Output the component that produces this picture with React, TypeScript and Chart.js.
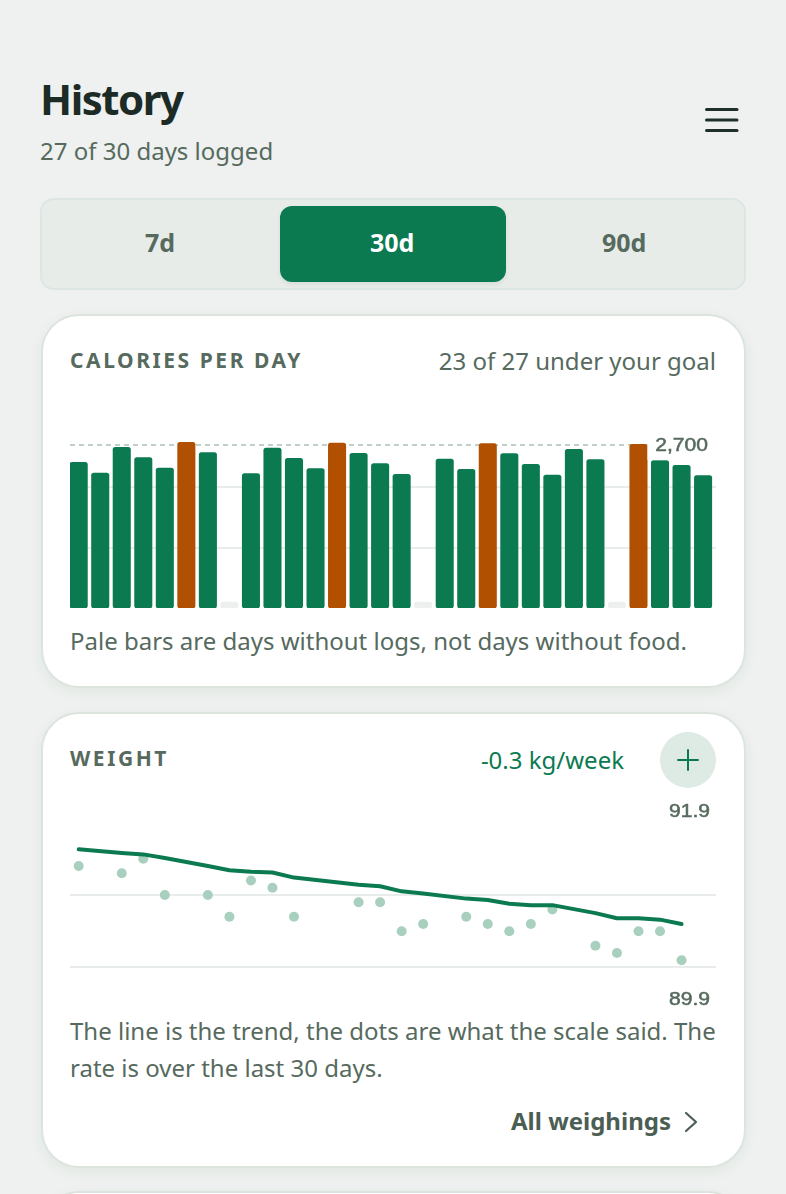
import { useEffect, useRef, type CSSProperties } from "react"
import { Chart, registerables, type Plugin } from "chart.js"

Chart.register(...registerables)

const CALORIES = [
  2414, 2237, 2663, 2492, 2320, 2746, 2575, 100, 2227, 2651, 2481, 2310, 2734, 2563, 2393, 2216, 100, 2469, 2299, 2724,
  2558, 2381, 2204, 2630, 2459, 100, 2713, 2443, 2365, 2194,
]
const UNLOGGED_DAYS = [7, 16, 25]
const GOAL = 2700
const CALORIE_GRID = [1000, 2000]
const GOAL_LABEL = "2,700"

const WEIGHT_DAYS = [0, 2, 3, 4, 6, 7, 8, 9, 10, 13, 14, 15, 16, 18, 19, 20, 21, 22, 24, 25, 26, 27, 28]
const WEIGHT_SCALE = [91.4, 91.3, 91.5, 91.0, 91.0, 90.7, 91.2, 91.1, 90.7, 90.9, 90.9, 90.5, 90.6, 90.7, 90.6, 90.5, 90.6, 90.8, 90.3, 90.2, 90.5, 90.5, 90.1]
const WEIGHT_TREND = [91.63, 91.58, 91.56, 91.51, 91.4, 91.34, 91.32, 91.31, 91.24, 91.14, 91.12, 91.05, 91.02, 90.95, 90.93, 90.88, 90.86, 90.86, 90.75, 90.68, 90.68, 90.66, 90.6]
const WEIGHT_GRID = [90, 91]
const WEIGHT_MAX_LABEL = "91.9"
const WEIGHT_MIN_LABEL = "89.9"

const GREEN = "#0b7a50"
const ORANGE = "#b05000"
const PALE = "#edf0ee"
const GRID = "#e8ecea"
const MUTED = "#566a5e"
const FONT = '"Noto Sans", sans-serif'

// both charts share one day axis, the bars sit a little left of their slot
const DAY_MIN = -0.404
const DAY_MAX = 29.6

function stretchedText(ctx: CanvasRenderingContext2D, text: string, right: number, y: number) {
  ctx.save()
  ctx.font = '18px "Liberation Sans", sans-serif'
  ctx.fillStyle = MUTED
  ctx.strokeStyle = MUTED
  ctx.lineWidth = 0.5
  ctx.textAlign = "right"
  ctx.textBaseline = "middle"
  ctx.translate(right, y)
  ctx.scale(1.17, 1)
  ctx.fillText(text, 0, 0)
  ctx.strokeText(text, 0, 0)
  ctx.restore()
}

const goalLabel: Plugin = {
  id: "goalLabel",
  afterDatasetsDraw(chart) {
    const { ctx, chartArea, scales } = chart
    const y = scales.y.getPixelForValue(GOAL)
    const left = scales.x.getPixelForValue(26.42)
    ctx.save()
    ctx.fillStyle = "#ffffff"
    ctx.fillRect(left, y - 14, chartArea.right - left, 29)
    ctx.restore()
    stretchedText(ctx, GOAL_LABEL, 638, y + 1)
  },
}

const weightLabels: Plugin = {
  id: "weightLabels",
  afterDatasetsDraw(chart) {
    const { ctx, chartArea } = chart
    stretchedText(ctx, WEIGHT_MAX_LABEL, 640, chartArea.top + 12)
    stretchedText(ctx, WEIGHT_MIN_LABEL, 640, chartArea.bottom - 11)
  },
}

function CaloriesChart() {
  const ref = useRef<HTMLCanvasElement>(null)

  useEffect(() => {
    if (!ref.current) return
    const chart = new Chart(ref.current, {
      type: "bar",
      data: {
        datasets: [
          {
            type: "bar",
            data: CALORIES.map((y, x) => ({ x, y })),
            backgroundColor: CALORIES.map((v, i) => (UNLOGGED_DAYS.includes(i) ? PALE : v > GOAL ? ORANGE : GREEN)),
            barThickness: 17.4,
            borderRadius: 2.5,
            borderSkipped: false,
            order: 1,
          },
          {
            type: "line",
            data: [
              { x: DAY_MIN, y: GOAL },
              { x: DAY_MAX, y: GOAL },
            ],
            borderColor: "#c0d0c6",
            borderWidth: 2,
            borderDash: [5, 4],
            pointRadius: 0,
            order: 2,
          },
        ],
      } as any,
      options: {
        responsive: false,
        animation: false,
        layout: { padding: 0, autoPadding: false },
        plugins: { legend: { display: false }, tooltip: { enabled: false } },
        scales: {
          x: { type: "linear", min: DAY_MIN, max: DAY_MAX, offset: false, display: false },
          y: {
            min: 0,
            max: 3000,
            afterBuildTicks: (axis) => {
              axis.ticks = CALORIE_GRID.map((value) => ({ value }))
            },
            ticks: { display: false },
            border: { display: false },
            grid: { color: GRID, lineWidth: 2, drawTicks: false },
          },
        },
      },
      plugins: [goalLabel],
    })
    return () => chart.destroy()
  }, [])

  return <canvas ref={ref} width={646} height={181} style={{ position: "absolute", left: 70, top: 427 }} />
}

function WeightChart() {
  const ref = useRef<HTMLCanvasElement>(null)

  useEffect(() => {
    if (!ref.current) return
    const chart = new Chart(ref.current, {
      type: "line",
      data: {
        datasets: [
          {
            data: WEIGHT_DAYS.map((x, i) => ({ x, y: WEIGHT_TREND[i] })),
            borderColor: GREEN,
            borderWidth: 4,
            borderCapStyle: "round",
            borderJoinStyle: "round",
            pointRadius: 0,
            order: 1,
          },
          {
            data: WEIGHT_DAYS.map((x, i) => ({ x, y: WEIGHT_SCALE[i] })),
            showLine: false,
            pointRadius: 5,
            pointBorderWidth: 0,
            pointBackgroundColor: "#a9d0bf",
            order: 2,
          },
        ],
      },
      options: {
        responsive: false,
        animation: false,
        layout: { padding: 0, autoPadding: false },
        plugins: { legend: { display: false }, tooltip: { enabled: false } },
        scales: {
          x: { type: "linear", min: DAY_MIN, max: DAY_MAX, display: false },
          y: {
            min: 89.4,
            max: 92.31,
            afterBuildTicks: (axis) => {
              axis.ticks = WEIGHT_GRID.map((value) => ({ value }))
            },
            ticks: { display: false },
            border: { display: false },
            grid: { color: GRID, lineWidth: 2, drawTicks: false },
          },
        },
      },
      plugins: [weightLabels],
    })
    return () => chart.destroy()
  }, [])

  return <canvas ref={ref} width={646} height={211} style={{ position: "absolute", left: 70, top: 800 }} />
}

function Text({ style, children }: { style: CSSProperties; children: string }) {
  return <div style={{ position: "absolute", whiteSpace: "nowrap", lineHeight: 1, ...style }}>{children}</div>
}

const card: CSSProperties = {
  position: "absolute",
  left: 40.5,
  width: 705,
  boxSizing: "border-box",
  background: "#fff",
  border: "2px solid #dbe5de",
  borderRadius: 38,
  boxShadow: "0 4px 14px rgba(30,60,45,0.06)",
}

export default function App() {
  return (
    <div style={{ position: "fixed", left: 0, top: 0, width: 786, height: 1194, overflow: "hidden", background: "#eef1ef", fontFamily: FONT, color: MUTED }}>
      <Text style={{ left: 40, top: 78, fontSize: 42, fontWeight: 700, letterSpacing: -1.5, color: "#1c2b25" }}>History</Text>
      <Text style={{ left: 40, top: 139, fontSize: 24, color: MUTED }}>27 of 30 days logged</Text>

      <svg width={34} height={24} style={{ position: "absolute", left: 705, top: 108 }}>
        {[1.5, 12, 22.5].map((y) => (
          <line key={y} x1={1.5} x2={32} y1={y} y2={y} stroke="#1f3029" strokeWidth={3} strokeLinecap="round" />
        ))}
      </svg>

      <div style={{ position: "absolute", left: 40, top: 198, width: 706, height: 92, boxSizing: "border-box", background: "#e7ece9", border: "2px solid #dde6e0", borderRadius: 14 }} />
      <div style={{ position: "absolute", left: 280, top: 206, width: 226, height: 76, background: GREEN, borderRadius: 12, boxShadow: "0 2px 4px rgba(30,50,40,0.08)" }} />
      <Text style={{ left: 145, top: 230, fontSize: 25, fontWeight: 700 }}>7d</Text>
      <Text style={{ left: 370, top: 230, fontSize: 25, fontWeight: 700, color: "#fff" }}>30d</Text>
      <Text style={{ left: 602, top: 230, fontSize: 25, fontWeight: 700 }}>90d</Text>

      <div style={{ ...card, top: 314, height: 374 }} />
      <Text style={{ left: 70, top: 350, fontSize: 21, fontWeight: 700, letterSpacing: 2.56 }}>CALORIES PER DAY</Text>
      <Text style={{ right: 70, top: 349, fontSize: 24 }}>23 of 27 under your goal</Text>
      <CaloriesChart />
      <Text style={{ left: 70, top: 629, fontSize: 24 }}>Pale bars are days without logs, not days without food.</Text>

      <div style={{ ...card, top: 712, height: 456 }} />
      <Text style={{ left: 70, top: 748, fontSize: 21, fontWeight: 700, letterSpacing: 2.56 }}>WEIGHT</Text>
      <Text style={{ right: 162, top: 748, fontSize: 24, color: GREEN }}>-0.3 kg/week</Text>
      <svg width={56} height={56} style={{ position: "absolute", left: 660, top: 732 }}>
        <circle cx={28} cy={28} r={28} fill="#deebe5" />
        <line x1={18} x2={38} y1={28} y2={28} stroke={GREEN} strokeWidth={2} strokeLinecap="round" />
        <line x1={28} x2={28} y1={18} y2={38} stroke={GREEN} strokeWidth={2} strokeLinecap="round" />
      </svg>
      <WeightChart />
      <Text style={{ left: 70, top: 1019, fontSize: 24 }}>The line is the trend, the dots are what the scale said. The</Text>
      <Text style={{ left: 70, top: 1056, fontSize: 24 }}>rate is over the last 30 days.</Text>
      <Text style={{ left: 511, top: 1109, fontSize: 24, fontWeight: 700, color: "#4c5e53" }}>All weighings</Text>
      <svg width={16} height={22} style={{ position: "absolute", left: 684, top: 1111 }}>
        <path d="M2 2 L12 11 L2 20" fill="none" stroke="#4c5e53" strokeWidth={2.2} strokeLinecap="round" strokeLinejoin="round" />
      </svg>

      <div style={{ ...card, top: 1191, height: 100 }} />
    </div>
  )
}
